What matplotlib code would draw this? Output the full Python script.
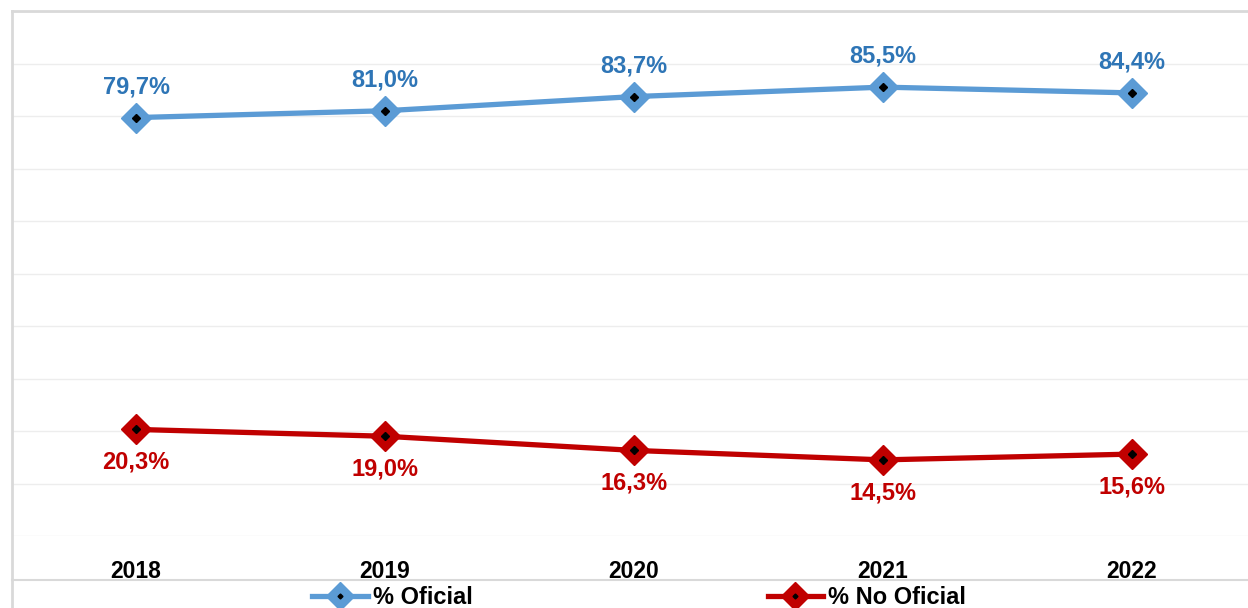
import matplotlib
matplotlib.use("Agg")
import matplotlib.pyplot as plt
from matplotlib.lines import Line2D
from matplotlib.legend_handler import HandlerTuple

years = ["2018", "2019", "2020", "2021", "2022"]
oficial = [79.7, 81.0, 83.7, 85.5, 84.4]
no_oficial = [20.3, 19.0, 16.3, 14.5, 15.6]
series_names = ["% Oficial", "% No Oficial"]

blue = "#5B9BD5"
blue_txt = "#2E75B6"
red = "#C00000"
grid_col = "#EDEDED"
frame_col = "#D9D9D9"

plt.rcParams['font.family'] = ['Liberation Sans', 'DejaVu Sans']

fig = plt.figure(figsize=(12.48, 6.08), dpi=100)
W, H = 1248, 608
# plot area: 0 -> y=536px, 100 -> y=11px ; categories 249px wide starting at x=11.5
ax = fig.add_axes([11.5 / W, (H - 536) / H, 1245 / W, 525 / H])
ax.set_xlim(-0.5, 4.5)
ax.set_ylim(0, 100)
for s in ax.spines.values():
    s.set_visible(False)
ax.set_yticks(range(0, 101, 10))
ax.yaxis.grid(True, color=grid_col, lw=1)
ax.set_axisbelow(True)
ax.tick_params(left=False, bottom=False, labelleft=False)
x = list(range(len(years)))
ax.set_xticks(x)
ax.set_xticklabels(years, fontsize=16.5, fontweight="bold")
ax.tick_params(axis="x", pad=14)

for vals, col, tcol, off, name in [(oficial, blue, blue_txt, 31, series_names[0]),
                                  (no_oficial, red, red, -33, series_names[1])]:
    ax.plot(x, vals, color=col, lw=3.8, marker="D", ms=15, mfc=col, mec=col,
            solid_capstyle="round", zorder=3)
    ax.plot(x, vals, ls="none", marker="D", ms=4, color="black", zorder=4)
    for xi, v in zip(x, vals):
        ax.annotate(f"{v:.1f}%".replace(".", ","), (xi, v), xytext=(0, off * 0.72),
                    textcoords="offset points", ha="center", va="center",
                    fontsize=17, fontweight="bold", color=tcol)

# chart frame lines
fig.add_artist(Line2D([11.5 / W, 11.5 / W], [0, (H - 11) / H], color=frame_col, lw=2))
fig.add_artist(Line2D([11.5 / W, 1], [(H - 11) / H, (H - 11) / H], color=frame_col, lw=2))
fig.add_artist(Line2D([11.5 / W, 1], [(H - 580) / H, (H - 580) / H], color=frame_col, lw=1.5))

handles = []
for col in [blue, red]:
    l1 = Line2D([], [], color=col, lw=3.8, marker="D", ms=14, mfc=col, mec=col)
    l2 = Line2D([], [], ls="none", marker="D", ms=2.5, color="black")
    handles.append((l1, l2))
fig.legend(handles, series_names, loc="center", bbox_to_anchor=(639 / W, (H - 597.5) / H),
           ncol=2, frameon=False, handlelength=2.35, handletextpad=0.2, columnspacing=12.5,
           prop={"size": 17, "weight": "bold"},
           handler_map={tuple: HandlerTuple(ndivide=1, pad=0)})

fig.savefig("out.png", dpi=100)
